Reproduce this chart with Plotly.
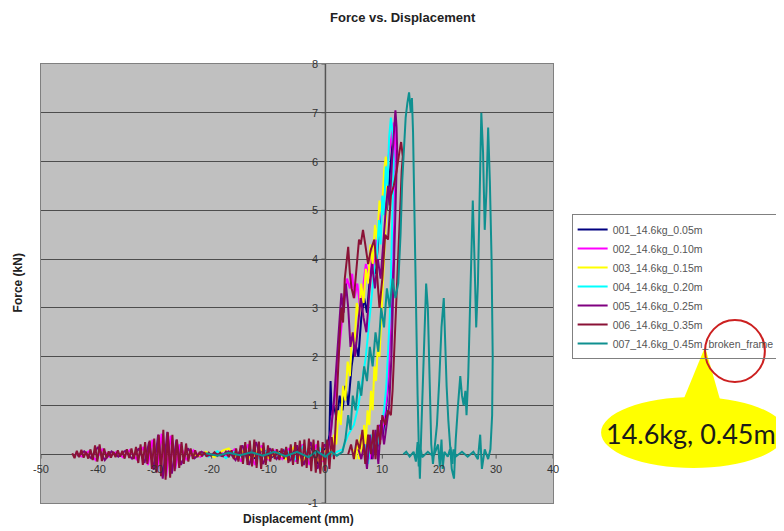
import plotly.graph_objects as go

# ---------------- data ----------------
series_names = [
    "001_14.6kg_0.05m",
    "002_14.6kg_0.10m",
    "003_14.6kg_0.15m",
    "004_14.6kg_0.20m",
    "005_14.6kg_0.25m",
    "006_14.6kg_0.35m",
    "007_14.6kg_0.45m_broken_frame",
]
series_colors = ["#000080", "#ff00ff", "#ffff00", "#00ffff", "#800080", "#8a1236", "#0f9090"]

x_ticks = [-50, -40, -30, -20, -10, 0, 10, 20, 30, 40]
y_ticks = [-1, 0, 1, 2, 3, 4, 5, 6, 7, 8]

# 001
s001_x = [-14, -12.5, -11, -9.5, -8, -6.5, -5, -3.8, -2.6, -1.4, -0.4,
          0.3, 0.7, 0.9, 1.1, 1.5, 2.0, 2.5, 3.0, 3.5, 4.0,
          4.6, 5.2, 5.8, 6.3, 6.8, 7.3, 7.8, 8.3, 8.8, 9.3,
          9.8, 10.3, 10.8, 11.2, 11.6, 11.9, 12.1, 12.0, 11.8, 11.6,
          11.3, 11.0, 10.6, 10.1, 9.6, 9.1, 8.6, 8.1, 7.6]
s001_y = [0.02, -0.08, 0.10, -0.06, 0.05, -0.08, 0.12, -0.15, 0.18, -0.2, 0.1,
          0.1, 0.4, 1.5, 0.8, 1.0, 0.7, 1.2, 0.9, 1.4, 1.0,
          1.8, 2.3, 2.0, 2.8, 3.2, 2.9, 3.6, 4.0, 3.7, 4.4,
          4.9, 5.2, 5.0, 5.6, 6.2, 6.5, 6.2, 5.2, 4.1, 3.2,
          2.2, 1.4, 0.9, 0.4, 0.6, 0.1, 0.3, -0.1, 0.2]

# 002
s002_x = [-44, -42.8, -41.6, -40.4, -39.2, -38, -36.8, -35.6, -34.4, -33.2,
          -32, -31.2, -30.4, -29.6, -28.8, -28, -27.2, -26.4, -25.6, -24.4,
          -23.2, -22, -20.8, -19.6, -18.4, -17.2, -16, -14.8, -13.6, -12.4,
          -11.2, -10, -8.8, -7.6, -6.4, -5.2, -4, -2.8, -1.6, -0.4,
          0.3, 0.8, 1.3, 1.8, 2.3, 2.8, 3.3, 3.8, 4.3, 4.7,
          5.1, 5.6, 6.1, 6.6, 7.1, 7.6, 8.1, 8.6, 9.1, 9.6,
          10.1, 10.6, 11.1, 11.6, 12.0, 12.3, 12.1, 11.8, 11.5, 11.2,
          10.8, 10.3, 9.8, 9.3, 8.8, 8.3, 7.8, 7.3, 6.8]
s002_y = [0.03, -0.05, 0.06, -0.12, 0.10, -0.05, 0.04, -0.06, 0.08, -0.1,
          0.15, -0.22, 0.3, -0.35, 0.42, -0.45, 0.38, -0.3, 0.2, -0.12,
          0.08, -0.05, 0.03, -0.03, 0.04, -0.05, 0.1, -0.15, 0.2, -0.22,
          0.18, -0.12, 0.08, -0.1, 0.12, -0.15, 0.2, -0.22, 0.2, -0.15,
          0.0, 0.3, 0.9, 1.3, 2.0, 2.6, 3.2, 3.6, 3.4, 3.7,
          3.2, 3.5, 3.0, 3.4, 3.9, 3.6, 4.2, 3.8, 4.5, 4.9,
          5.3, 5.8, 6.2, 6.5, 6.8, 6.6, 5.6, 4.2, 3.0, 2.0,
          1.2, 0.8, 0.3, 0.6, 0.1, 0.4, -0.1, 0.3, 0.0]

# 003
s003_x = [-24, -22.5, -21, -19.5, -18, -17, -16, -14.5, -13, -11.5,
          -10, -8.5, -7, -5.5, -4, -2.5, -1, 0.2,
          1.0, 1.5, 1.9, 2.3, 2.7, 3.1, 3.5, 3.9, 4.3, 4.7,
          5.1, 5.5, 5.9, 6.3, 6.7, 7.1, 7.5, 7.9, 8.3, 8.7,
          9.1, 9.5, 9.9, 10.3, 10.6, 10.9, 10.7, 10.4, 10.1, 9.8,
          9.5, 9.2, 8.9, 8.6, 8.3, 8.0, 7.7, 7.4, 7.1, 6.8,
          6.5, 6.2, 5.9, 5.6, 5.3, 5.0]
s003_y = [0.02, -0.04, 0.05, -0.06, 0.08, 0.12, -0.05, 0.06, -0.1, 0.12,
          -0.08, 0.06, -0.1, 0.15, -0.18, 0.22, -0.2, 0.1,
          0.0, 0.4, 0.2, 0.9, 0.6, 1.4, 1.1, 1.9, 1.6, 2.5,
          2.2, 3.1, 2.8, 3.5, 3.1, 3.8, 3.5, 4.3, 3.9, 4.7,
          4.4, 5.2, 4.9, 5.8, 6.1, 5.9, 5.0, 4.2, 3.3, 2.6,
          2.0, 2.2, 1.5, 1.8, 0.9, 1.3, 0.6, 0.9, 0.2, 0.6,
          0.0, 0.4, -0.1, 0.3, -0.1, 0.1]

# 004
s004_x = [-22, -20.5, -19, -17.5, -16, -14.5, -13, -11.5, -10, -8.5,
          -7, -5.5, -4, -2.5, -1, 0.5, 2.0,
          3.0, 4.0, 5.0, 5.8, 6.5, 7.1, 7.6, 8.1, 8.6, 9.0,
          9.4, 9.7, 10.0, 10.3, 10.6, 10.9, 11.2, 11.5, 11.8, 12.0,
          11.8, 11.5, 11.3, 11.0, 10.7, 10.3, 9.9, 9.5, 9.0, 8.5,
          8.0, 7.5, 7.0]
s004_y = [0.03, -0.05, 0.06, -0.08, 0.05, -0.06, 0.08, -0.1, 0.12, -0.08,
          0.1, -0.12, 0.15, -0.1, 0.12, -0.08, 0.05,
          0.1, 0.4, 0.6, 1.0, 1.5, 2.0, 2.6, 3.2, 3.8, 4.0,
          4.8, 4.3, 5.3, 4.9, 5.9, 5.5, 6.5, 6.9, 6.6, 6.0,
          4.8, 3.6, 2.8, 2.2, 1.4, 0.9, 0.6, 0.2, 0.5, 0.0,
          0.4, -0.2, 0.2]

# 005
s005_x = [-43.6, -42.4, -41.2, -40.0, -38.8, -37.6, -36.4, -35.2, -34.0, -32.8,
          -31.8, -31.0, -30.2, -29.4, -28.6, -27.8, -27.0, -26.2, -25.4, -24.2,
          -23.0, -21.8, -20.6, -19.4, -18.2, -17.0, -15.8, -14.6, -13.4, -12.2,
          -11.0, -9.8, -8.6, -7.4, -6.2, -5.0, -3.8, -2.6, -1.4, -0.2,
          0.5, 1.0, 1.5, 2.0, 2.4, 2.8, 3.2, 3.6, 4.0, 4.4,
          4.8, 5.2, 5.7, 6.2, 6.7, 7.2, 7.7, 8.2, 8.7, 9.2,
          9.7, 10.2, 10.6, 11.0, 11.3, 11.7, 12.0, 12.3, 12.5, 12.6,
          12.4, 12.2, 11.9, 11.6, 11.2, 10.8, 10.3, 9.8, 9.3, 8.8,
          8.3, 7.8, 7.3, 6.8, 6.3, 5.8]
s005_y = [-0.04, 0.06, -0.08, 0.15, -0.12, 0.06, -0.05, 0.07, -0.09, 0.12,
          -0.18, 0.25, -0.32, 0.4, -0.5, 0.46, -0.4, 0.3, -0.22, 0.12,
          -0.08, 0.05, -0.03, 0.02, -0.04, 0.06, -0.12, 0.18, -0.22, 0.25,
          -0.2, 0.12, -0.1, 0.08, -0.14, 0.18, -0.22, 0.25, -0.3, 0.2,
          0.1, 0.5, 1.1, 2.0, 2.7, 3.3, 2.9, 3.5, 3.0, 2.2,
          2.5, 2.0, 2.6, 3.2, 2.8, 2.5, 3.3, 3.9, 3.4, 4.0,
          3.6, 4.5, 5.0, 5.5, 5.1, 6.0, 6.6, 7.05, 6.7, 6.3,
          5.4, 4.5, 3.3, 2.0, 1.0, 0.6, 0.2, 0.7, -0.2, 0.5,
          -0.1, 0.4, -0.3, 0.2, -0.1, 0.1]

# 006
s006_x = [-44.5, -44.1, -43.7, -43.3, -42.9, -42.5, -42.1, -41.7, -41.3, -40.9,
          -40.5, -40.1, -39.7, -39.3, -38.9, -38.5, -38.1, -37.7, -37.3, -36.9,
          -36.5, -36.1, -35.7, -35.3, -34.9, -34.5, -34.1, -33.7, -33.3, -32.9,
          -32.5, -32.1, -31.7, -31.3, -30.9, -30.5, -30.1, -29.7, -29.3, -28.9,
          -28.5, -28.1, -27.7, -27.3, -26.9, -26.5, -26.1, -25.7, -25.3, -24.9,
          -24.5, -24.1, -23.7, -23.3, -22.9, -22.5, -22.1, -21.7, -21.3, -20.9,
          -20.5, -20.1,
          -19.5, -19.0, -18.5, -18.0, -17.5, -17.0, -16.5,
          -16.1, -15.7, -15.3, -14.9, -14.5, -14.1, -13.7, -13.3, -12.9, -12.5,
          -12.1, -11.7, -11.3, -10.9, -10.5, -10.1, -9.7, -9.3, -8.9, -8.5,
          -8.1, -7.7, -7.3, -6.9, -6.5, -6.1, -5.7, -5.3, -4.9, -4.5,
          -4.1, -3.7, -3.3, -2.9, -2.5, -2.1, -1.7, -1.3, -0.9, -0.5,
          -0.1, 0.3, 0.7,
          1.1, 1.5, 1.9, 2.2, 2.5, 2.8, 3.1, 3.4, 3.7, 4.0,
          4.3, 4.6, 5.0, 5.3, 5.6, 5.9, 6.2, 6.6, 7.0, 7.5,
          8.0, 8.6, 9.0, 9.5, 10.0, 10.5, 11.0, 11.5, 12.0, 12.5,
          13.0, 13.3, 13.6, 13.4, 13.2, 12.8, 12.4, 12.1, 11.8, 11.5,
          11.0, 10.5, 10.0, 9.6, 9.2, 8.8, 8.4, 8.0, 7.5, 7.0,
          6.5, 6.0, 5.5, 5.0, 4.5, 4.0]
s006_y = [0.02, -0.08, 0.07, -0.06, 0.09, -0.07, 0.05, -0.09, 0.10, -0.12,
          0.18, -0.15, 0.20, -0.14, 0.12, -0.08, 0.06, -0.07, 0.05, -0.06,
          0.08, -0.05, 0.07, -0.09, 0.10, -0.08, 0.12, -0.10, 0.15, -0.18,
          0.20, -0.22, 0.25, -0.20, 0.28, -0.30, 0.32, -0.38, 0.40, -0.45,
          0.50, -0.52, 0.45, -0.48, 0.40, -0.35, 0.30, -0.28, 0.25, -0.20,
          0.22, -0.15, 0.12, -0.10, 0.08, -0.06, 0.05, -0.04, 0.04, -0.05,
          0.03, -0.03,
          0.04, -0.03, 0.03, -0.04, 0.05, -0.06, 0.08,
          -0.10, 0.12, -0.15, 0.18, -0.20, 0.25, -0.22, 0.28, -0.25, 0.30,
          -0.28, 0.26, -0.30, 0.24, -0.22, 0.18, -0.15, 0.12, -0.10, 0.10,
          -0.12, 0.12, -0.10, 0.15, -0.18, 0.20, -0.22, 0.25, -0.20, 0.28,
          -0.25, 0.30, -0.28, 0.32, -0.35, 0.30, -0.38, 0.28, -0.40, 0.25,
          -0.35, 0.30, -0.30,
          0.35, -0.1, 0.9, 1.8, 2.4, 3.0, 2.7, 3.6, 3.9, 4.25,
          3.7, 3.4, 3.2, 3.6, 4.0, 4.4, 4.3, 4.6, 4.3, 3.9,
          4.2, 4.4, 3.8, 3.0, 3.6, 4.5, 4.4, 5.3, 5.5, 5.8,
          6.2, 6.4, 6.1, 5.8, 5.2, 4.0, 2.8, 2.0, 1.3, 0.8,
          0.9, 0.6, 0.8, 0.2, 0.6, -0.1, 0.5, 0.0, 0.4, -0.2,
          0.5, 0.1, 0.3, -0.1, 0.2, 0.0]

# 007
s007_x = [-21, -19, -17, -15, -13, -11, -9, -7, -5, -3,
          -1.5, 0, 1, 2, 3,
          3.5, 4.0, 4.4, 4.8, 5.3, 5.8, 6.3, 6.8, 7.3, 7.8,
          8.3, 8.8, 9.3, 9.8, 10.3, 10.8, 11.3, 11.8, 12.3, 12.8,
          13.2, 13.5, 13.8, 14.1, 14.4, 14.7, 15.0, 15.2, 15.4, 15.6,
          15.8, 16.0, 16.2, 16.4, 16.6, 16.8, 17.1, 17.4, 17.7, 18.0,
          18.2, 18.4, 18.6, 18.9, 19.2, 19.6, 20.0, 20.4, 20.8, 21.0,
          21.3, 21.6, 21.9, 22.2, 22.6, 22.9, 23.3, 23.7, 24.0, 24.3,
          24.6, 24.8, 25.1, 25.4, 25.7, 25.9, 26.2, 26.5, 26.8, 27.1,
          27.4, 27.7, 28.0, 28.3, 28.6, 28.9, 29.2, 29.4, 29.3, 29.0,
          28.6, 28.0, 27.5, 27.2, 26.8, 26.0, 25.0, 24.0, 23.0, 22.5,
          22.3, 22.0, 21.5, 20.9, 20.6, 20.4, 20.1, 19.8, 19.0, 18.0,
          17.0, 16.6, 16.4, 16.2, 15.9, 15.5, 14.8, 14.2, 13.7]
s007_y = [0.02, -0.03, 0.03, -0.02, 0.04, -0.03, 0.05, -0.04, 0.05, -0.06,
          0.06, -0.05, 0.05, -0.03, 0.05,
          0.3, 0.8, 0.5, 1.2, 0.9, 1.5, 1.2, 1.8, 1.5, 2.2,
          1.8, 2.5, 2.1, 3.0, 2.6, 3.4, 3.0, 3.6, 3.2, 3.5,
          4.5, 5.6, 6.4, 6.9, 7.2, 7.42, 7.0, 7.3, 6.6, 5.1,
          4.0, 2.6, 1.2, 0.2, -0.5, 0.3, 1.5, 2.6, 3.5, 3.0,
          2.0, 1.0, 0.2, -0.2, 0.1, 0.6, 1.5, 2.6, 3.2, 2.4,
          1.4, 0.7, 0.2, -0.3, -0.5, 0.3, 1.0, 1.6, 1.2, 1.0,
          1.3, 0.8, 1.6, 3.2, 4.8, 5.2, 4.0, 2.6, 3.5, 5.5,
          7.0, 6.2, 4.6, 5.4, 6.7, 5.6, 4.0, 2.0, 0.8, 0.1,
          -0.1, 0.1, -0.3, 0.4, -0.1, 0.05, -0.05, 0.05, -0.04, 0.1,
          -0.2, 0.15, -0.05, 0.05, -0.3, 0.3, -0.25, 0.2, -0.05, 0.05,
          -0.06, 0.2, -0.25, 0.25, -0.15, 0.05, -0.05, 0.05, 0.0]

series_x = [s001_x, s002_x, s003_x, s004_x, s005_x, s006_x, s007_x]
series_y = [s001_y, s002_y, s003_y, s004_y, s005_y, s006_y, s007_y]

callout_text = "14.6kg, 0.45m"

# ---------------- layout helpers ----------------
# The page body has the browser's default 8px margin, so the figure is drawn
# 8px right/down of the window corner; target positions below are window
# pixels, and the plot margins compensate for that offset.
W, H = 784, 531
OFF = 8
L, R, T, B = 41, 563, 64, 503          # plot area in window pixels
PW, PH = R - L, B - T


def px(xp):
    return (xp - L) / PW


def py(yp):
    return (B - yp) / PH


fig = go.Figure()
for name, color, xs, ys in zip(series_names, series_colors, series_x, series_y):
    fig.add_trace(go.Scatter(x=xs, y=ys, mode="lines", name=name,
                             line=dict(color=color, width=2)))

tick_font = dict(size=11, color="#333333", family="Liberation Sans, Arial")
annotations = []
for v in y_ticks:
    annotations.append(dict(x=0, y=v, xref="x", yref="y", text=str(v), showarrow=False,
                            xanchor="right", yanchor="middle", xshift=-5, font=tick_font))
for v in x_ticks:
    annotations.append(dict(x=v, y=0, xref="x", yref="y", text=str(v), showarrow=False,
                            xanchor="center", yanchor="top", yshift=-7, font=tick_font))

annotations += [
    dict(x=px(410), y=py(17), xref="paper", yref="paper", text="Force vs. Displacement",
         showarrow=False, xanchor="center", yanchor="middle",
         font=dict(size=13, color="#222222", family="Liberation Sans, Arial", weight="bold")),
    dict(x=px(304), y=py(519), xref="paper", yref="paper", text="Displacement (mm)",
         showarrow=False, xanchor="center", yanchor="middle",
         font=dict(size=12, color="#222222", family="Liberation Sans, Arial", weight="bold")),
    dict(x=px(18), y=py(283), xref="paper", yref="paper", text="Force (kN)", textangle=-90,
         showarrow=False, xanchor="center", yanchor="middle",
         font=dict(size=12, color="#222222", family="Liberation Sans, Arial", weight="bold")),
    dict(x=px(615), y=py(433), xref="paper", yref="paper", text=callout_text,
         showarrow=False, xanchor="left", yanchor="middle",
         font=dict(size=27, color="#1a1a1a", family="Lato, Open Sans")),
]

tri = "M {} {} L {} {} L {} {} Z".format(px(695), py(402), px(718), py(347), px(734), py(402))

axis_color = "#555555"
shapes = [
    dict(type="line", xref="x", yref="y", x0=0, x1=0, y0=-1, y1=8,
         line=dict(color=axis_color, width=1.5), layer="below"),
]
# small tick marks on the axes that cross at the origin
for v in y_ticks:
    shapes.append(dict(type="line", xref="x", yref="y", x0=-0.7, x1=0, y0=v, y1=v,
                       line=dict(color=axis_color, width=1), layer="below"))
for v in x_ticks:
    shapes.append(dict(type="line", xref="x", yref="y", x0=v, x1=v, y0=0, y1=-0.09,
                       line=dict(color=axis_color, width=1), layer="below"))

shapes += [
    dict(type="circle", xref="paper", yref="paper", x0=px(612), x1=px(800), y0=py(468), y1=py(397),
         fillcolor="#ffff00", line=dict(width=0), layer="above"),
    dict(type="path", xref="paper", yref="paper", path=tri,
         fillcolor="#ffff00", line=dict(width=0), layer="above"),
    dict(type="circle", xref="paper", yref="paper", x0=px(718), x1=px(779), y0=py(382), y1=py(320),
         fillcolor="rgba(0,0,0,0)", line=dict(color="#cc2020", width=2), layer="above"),
]

fig.update_layout(
    width=W, height=H, autosize=False,
    margin=dict(l=L - OFF, r=W - (R - OFF), t=T - OFF, b=H - (B - OFF)),
    paper_bgcolor="white",
    plot_bgcolor="#c0c0c0",
    showlegend=True,
    legend=dict(x=px(582), y=py(214), xanchor="left", yanchor="top",
                bgcolor="rgba(0,0,0,0)", bordercolor="#808080", borderwidth=1,
                font=dict(size=10.5, color="#555555", family="Liberation Sans, Arial")),
    xaxis=dict(range=[-50, 40], showticklabels=False, showgrid=False, zeroline=False,
               showline=True, mirror=True, linecolor="#808080", linewidth=1, ticks=""),
    yaxis=dict(range=[-1, 8], dtick=1, tick0=0, showticklabels=False, showgrid=True,
               gridcolor="#4d4d4d", gridwidth=1.2, zeroline=False,
               showline=True, mirror=True, linecolor="#808080", linewidth=1, ticks=""),
    annotations=annotations,
    shapes=shapes,
)

fig.write_html("out.html")
